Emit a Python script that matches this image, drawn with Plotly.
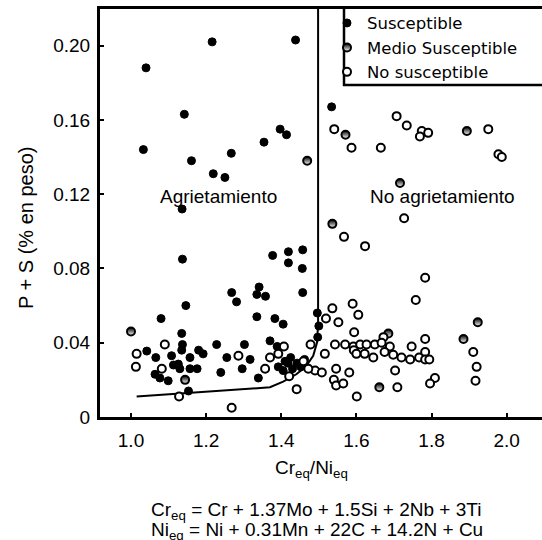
import plotly.graph_objects as go

# ---------------- data ----------------
sus_x = [1.216, 1.438, 1.040, 1.142, 1.033, 1.161, 1.267, 1.219, 1.250, 1.354, 1.397, 1.414,
         1.136, 1.534, 1.137, 1.146, 1.080, 1.135, 1.137, 1.135, 1.228, 1.302, 1.042, 1.066,
         1.108, 1.113, 1.157, 1.180, 1.192, 1.255, 1.317, 1.126, 1.130, 1.157, 1.176, 1.064,
         1.077, 1.099, 1.239, 1.296, 1.339, 1.153, 1.268, 1.281, 1.341, 1.335, 1.358, 1.335,
         1.383, 1.405, 1.377, 1.419, 1.419, 1.457, 1.456, 1.457, 1.370, 1.389, 1.496, 1.500,
         1.497, 1.392, 1.405, 1.418, 1.430, 1.442, 1.452, 1.425, 1.462, 1.410]
sus_y = [0.202, 0.203, 0.188, 0.163, 0.144, 0.138, 0.142, 0.131, 0.129, 0.148, 0.155, 0.152,
         0.112, 0.167, 0.085, 0.060, 0.053, 0.045, 0.039, 0.036, 0.039, 0.039, 0.0355, 0.032,
         0.033, 0.028, 0.032, 0.036, 0.034, 0.032, 0.031, 0.0285, 0.026, 0.026, 0.026, 0.023,
         0.021, 0.0195, 0.024, 0.026, 0.021, 0.014, 0.067, 0.062, 0.070, 0.066, 0.065, 0.054,
         0.053, 0.050, 0.087, 0.089, 0.083, 0.090, 0.080, 0.067, 0.041, 0.038, 0.056, 0.049,
         0.043, 0.027, 0.025, 0.029, 0.026, 0.029, 0.027, 0.032, 0.031, 0.030]

med_x = [1.000, 1.469, 1.536, 1.571, 1.716, 1.894, 1.923, 1.885, 1.661, 1.685, 1.144]
med_y = [0.046, 0.138, 0.104, 0.152, 0.126, 0.154, 0.051, 0.042, 0.016, 0.045, 0.020]

no_x = [1.707, 1.734, 1.541, 1.587, 1.665, 1.774, 1.769, 1.791, 1.951, 1.978, 1.987, 1.727,
        1.567, 1.623, 1.783, 1.758, 1.536, 1.590, 1.605, 1.519, 1.552, 1.594, 1.672, 1.783,
        1.543, 1.570, 1.592, 1.610, 1.627, 1.649, 1.667, 1.689, 1.747, 1.593, 1.600, 1.622,
        1.645, 1.675, 1.698, 1.720, 1.743, 1.767, 1.783, 1.783, 1.794, 1.546, 1.581, 1.703,
        1.540, 1.546, 1.565, 1.709, 1.601, 1.809, 1.796, 1.911, 1.920, 1.917, 1.478, 1.516,
        1.490, 1.508, 1.472, 1.459, 1.441, 1.421, 1.407, 1.392, 1.370, 1.357, 1.286, 1.268,
        1.128, 1.082, 1.090, 1.015, 1.013]
no_y = [0.162, 0.157, 0.155, 0.145, 0.145, 0.154, 0.151, 0.153, 0.155, 0.1415, 0.140, 0.107,
        0.097, 0.092, 0.075, 0.063, 0.0585, 0.061, 0.055, 0.053, 0.051, 0.0456, 0.043, 0.042,
        0.039, 0.039, 0.038, 0.039, 0.039, 0.039, 0.040, 0.038, 0.038, 0.036, 0.034, 0.034,
        0.032, 0.035, 0.0335, 0.032, 0.031, 0.032, 0.035, 0.031, 0.031, 0.026, 0.024, 0.025,
        0.020, 0.017, 0.018, 0.016, 0.011, 0.021, 0.018, 0.035, 0.027, 0.0195, 0.039, 0.034,
        0.025, 0.024, 0.026, 0.030, 0.015, 0.022, 0.038, 0.034, 0.032, 0.026, 0.033, 0.005,
        0.011, 0.026, 0.039, 0.034, 0.027]

# boundary curve
bound_x = [1.015, 1.25, 1.37, 1.405, 1.44, 1.465, 1.485, 1.495, 1.498, 1.498]
bound_y = [0.011, 0.0145, 0.016, 0.019, 0.023, 0.027, 0.033, 0.040, 0.050, 0.22]

x_ticks = [1.0, 1.2, 1.4, 1.6, 1.8, 2.0]
x_ticktext = ["1.0", "1.2", "1.4", "1.6", "1.8", "2.0"]
y_ticks = [0, 0.04, 0.08, 0.12, 0.16, 0.20]
y_ticktext = ["0", "0.04", "0.08", "0.12", "0.16", "0.20"]

# ---------------- figure ----------------
FONT = "Liberation Sans, Arial, sans-serif"
LEG_FONT = "DejaVu Sans, sans-serif"
W, H = 542, 540
L, R, T, B = 100, 0, 9, 123
pw, ph = W - L - R, H - T - B


def px_x(p):
    return (p - L) / pw


def px_y(p):
    return (H - B - p) / ph


fig = go.Figure()

fig.add_trace(go.Scatter(x=bound_x, y=bound_y, mode="lines",
                         line=dict(color="black", width=2),
                         showlegend=False, hoverinfo="skip"))

fig.add_trace(go.Scatter(x=sus_x, y=sus_y, mode="markers", name="Susceptible",
                         marker=dict(symbol="circle", size=8, color="black",
                                     line=dict(color="black", width=1))))
fig.add_trace(go.Scatter(x=med_x, y=med_y, mode="markers", name="Medio Susceptible",
                         marker=dict(symbol="circle", size=8, color="black",
                                     gradient=dict(type="vertical", color="white"),
                                     line=dict(color="black", width=2))))
fig.add_trace(go.Scatter(x=no_x, y=no_y, mode="markers", name="No susceptible",
                         marker=dict(symbol="circle", size=8, color="white",
                                     line=dict(color="black", width=2))))

fig.add_annotation(x=1.234, y=0.1185, xref="x", yref="y", text="Agrietamiento",
                   showarrow=False, font=dict(family=FONT, size=19, color="black"))
fig.add_annotation(x=1.83, y=0.1185, xref="x", yref="y", text="No agrietamiento",
                   showarrow=False, font=dict(family=FONT, size=19, color="black"))

fig.add_annotation(x=px_x(311), y=px_y(469), xref="paper", yref="paper",
                   text="Cr<sub>eq</sub>/Ni<sub>eq</sub>", showarrow=False,
                   xanchor="center", yanchor="middle",
                   font=dict(family=FONT, size=19, color="black"))
fig.add_annotation(x=px_x(149), y=px_y(511), xref="paper", yref="paper",
                   text="Cr<sub>eq</sub> = Cr + 1.37Mo + 1.5Si + 2Nb + 3Ti", showarrow=False,
                   xanchor="left", yanchor="middle",
                   font=dict(family=FONT, size=19, color="black"))
fig.add_annotation(x=px_x(149), y=px_y(531), xref="paper", yref="paper",
                   text="Ni<sub>eq</sub> = Ni + 0.31Mn + 22C + 14.2N + Cu", showarrow=False,
                   xanchor="left", yanchor="middle",
                   font=dict(family=FONT, size=19, color="black"))
fig.add_annotation(x=px_x(26), y=px_y(228), xref="paper", yref="paper",
                   text="P + S (% en peso)", textangle=-90, showarrow=False,
                   xanchor="center", yanchor="middle",
                   font=dict(family=FONT, size=20, color="black"))

# legend box (left and bottom edges; top coincides with plot frame)
fig.add_shape(type="line", xref="paper", yref="paper",
              x0=px_x(344), x1=px_x(344), y0=px_y(86), y1=px_y(9),
              line=dict(color="black", width=2.5))
fig.add_shape(type="line", xref="paper", yref="paper",
              x0=px_x(343), x1=px_x(542), y0=px_y(85), y1=px_y(85),
              line=dict(color="black", width=2.5))

fig.update_layout(
    width=W, height=H,
    margin=dict(l=L, r=R, t=T, b=B, pad=0),
    paper_bgcolor="white", plot_bgcolor="white",
    font=dict(family=FONT, size=19, color="black"),
    showlegend=True,
    legend=dict(x=px_x(327), y=1.008, xanchor="left", yanchor="top",
                bgcolor="rgba(0,0,0,0)", borderwidth=0,
                font=dict(family=LEG_FONT, size=16.5, color="black"),
                itemwidth=30),
    xaxis=dict(range=[0.9175, 2.094], tickvals=x_ticks, ticktext=x_ticktext,
               showgrid=False, zeroline=False, showline=True, linecolor="black",
               linewidth=3, mirror=True, ticks="inside", ticklen=4, tickwidth=2,
               tickcolor="black", tickfont=dict(family=FONT, size=19),
               ticklabelstandoff=4),
    yaxis=dict(range=[0, 0.2197], tickvals=y_ticks, ticktext=y_ticktext,
               showgrid=False, zeroline=False, showline=True, linecolor="black",
               linewidth=3, ticks="inside", ticklen=4, tickwidth=2,
               tickcolor="black", tickfont=dict(family=FONT, size=19),
               ticklabelstandoff=3),
)

fig.write_html("out.html", config={"displayModeBar": False},
               post_script="document.body.style.margin='0';document.body.style.overflow='hidden';")
